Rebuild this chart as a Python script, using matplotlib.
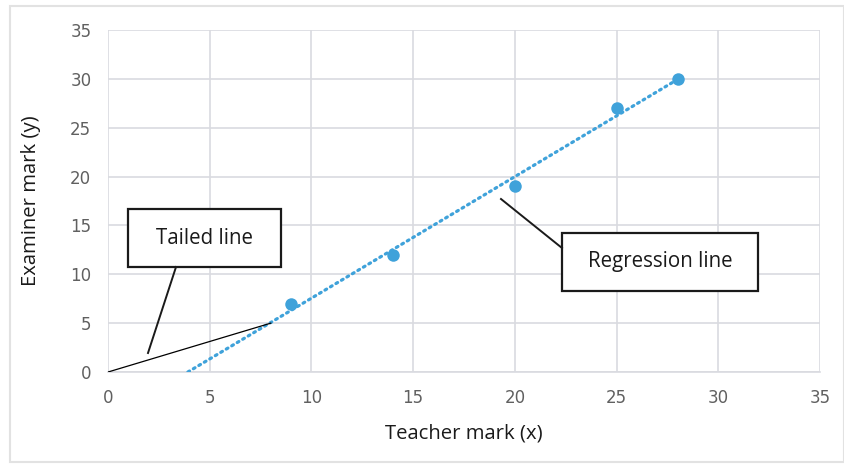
import numpy as np
import matplotlib
matplotlib.use("Agg")
import matplotlib.pyplot as plt
from matplotlib.patches import Rectangle

# Marks awarded by the teacher and by the examiner
teacher = [9, 14, 20, 25, 28]
examiner = [7, 12, 19, 27, 30]

# Hand-drawn "tailed" line from the origin
tail_x = [0, 8]
tail_y = [0, 5]

ticks = [0, 5, 10, 15, 20, 25, 30, 35]

blue = "#3fa2da"
grid_c = "#d9dae0"
tick_c = "#606060"

fig = plt.figure(figsize=(8.44, 4.68), dpi=100)
ax = fig.add_axes([0.128, 0.2051, 0.8436, 0.7308])

# Least-squares regression line, drawn from where it crosses y=0 up to the last point
slope, intercept = np.polyfit(teacher, examiner, 1)
x0 = -intercept / slope
xr = np.array([x0, max(teacher)])
ax.plot(xr, slope * xr + intercept, linestyle=(0, (0.6, 1.4)), color=blue,
        lw=2.3, dash_capstyle="round", zorder=3)

ax.plot(teacher, examiner, "o", color=blue, ms=9, mec="none", zorder=4)
ax.plot(tail_x, tail_y, color="black", lw=0.9, zorder=3)

ax.set_xlim(0, 35)
ax.set_ylim(0, 35)
ax.set_xticks(ticks)
ax.set_yticks(ticks)
ax.grid(True, color=grid_c, lw=1.2)
ax.set_axisbelow(True)
for s in ["top", "right", "left"]:
    ax.spines[s].set_visible(False)
ax.spines["bottom"].set_color(grid_c)
ax.spines["bottom"].set_linewidth(1.2)
ax.tick_params(length=0, labelsize=12, labelcolor=tick_c, pad=12)
for lab in ax.get_xticklabels() + ax.get_yticklabels():
    lab.set_fontfamily(["Liberation Sans Narrow", "DejaVu Sans"])

ax.set_xlabel("Teacher mark (x)", fontsize=14.6, color="#1a1a1a", labelpad=12,
              family=["Open Sans", "DejaVu Sans"])
ax.set_ylabel("Examiner mark (y)", fontsize=14.6, color="#1a1a1a", labelpad=21,
              family=["Open Sans", "DejaVu Sans"])

# Callout boxes with leader lines (figure pixel coordinates, y from top)
W, H = 844.0, 468.0

def px(x, y):
    return x / W, 1 - y / H

def callout(x1, y1, x2, y2, text, lx1, ly1, lx2, ly2):
    fig.add_artist(Rectangle(px(x1, y2), (x2 - x1) / W, (y2 - y1) / H,
                             transform=fig.transFigure, facecolor="white",
                             edgecolor="#1a1a1a", lw=1.6, zorder=5))
    cx, cy = px((x1 + x2) / 2, (y1 + y2) / 2)
    fig.text(cx, cy, text, ha="center", va="center", fontsize=14.8,
             color="#1a1a1a", family=["Open Sans", "DejaVu Sans"], zorder=6)
    a, b = px(lx1, ly1)
    c, d = px(lx2, ly2)
    fig.add_artist(plt.Line2D([a, c], [b, d], transform=fig.transFigure,
                              color="#1a1a1a", lw=1.4, zorder=5))

callout(128, 209, 281, 267, "Tailed line", 176, 267, 148, 353)
callout(562, 233, 758, 291, "Regression line", 501, 199, 562, 248)

# Light outer frame
fig.add_artist(Rectangle((10 / W, 6 / H), 834 / W, 456 / H, transform=fig.transFigure,
                         facecolor="none", edgecolor="#e2e2e2", lw=1.5, zorder=0))

fig.savefig("out.png", dpi=100)
